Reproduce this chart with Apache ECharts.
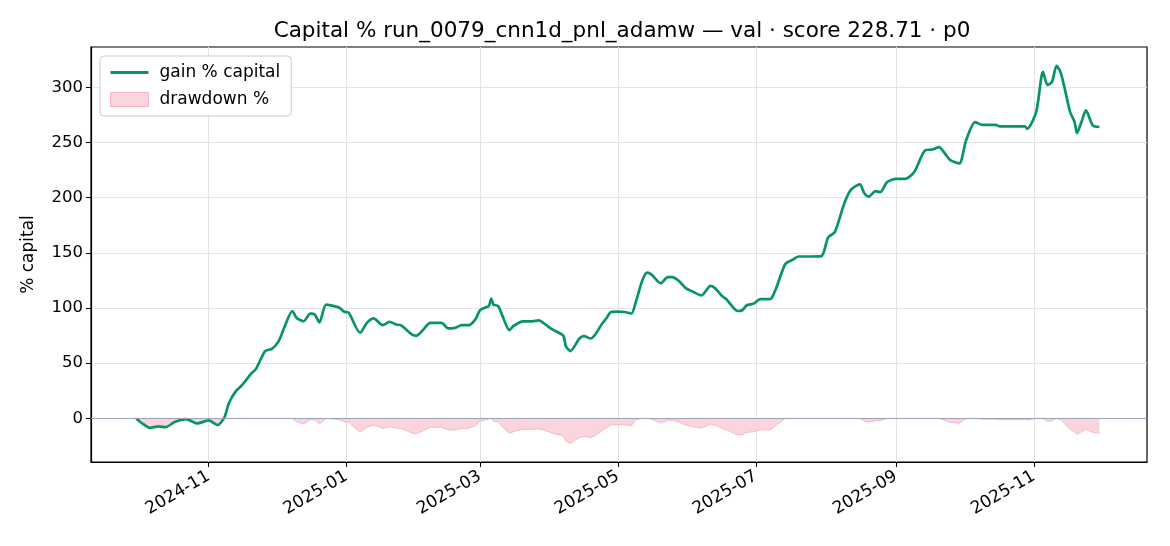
<!DOCTYPE html>
<html>
<head>
<meta charset="utf-8">
<title>Capital %</title>
<script src="https://cdn.jsdelivr.net/npm/echarts@6/dist/echarts.min.js"></script>
<style>
html,body{margin:0;padding:0;background:#fff;}
#chart{width:1170px;height:546px;}
</style>
</head>
<body>
<div id="chart"></div>
<script>
// dates of the points
var dates = [
	'2024-09-30','2024-10-03','2024-10-06','2024-10-10','2024-10-13','2024-10-17','2024-10-22','2024-10-27',
	'2024-11-01','2024-11-05','2024-11-08','2024-11-10','2024-11-13','2024-11-16','2024-11-20','2024-11-22',
	'2024-11-26','2024-11-29','2024-12-02','2024-12-05','2024-12-08','2024-12-10','2024-12-13','2024-12-16',
	'2024-12-18','2024-12-20','2024-12-23','2024-12-27','2024-12-29','2024-12-31','2025-01-02','2025-01-07',
	'2025-01-10','2025-01-13','2025-01-17','2025-01-20','2025-01-23','2025-01-25','2025-01-30','2025-02-01',
	'2025-02-04','2025-02-07','2025-02-12','2025-02-15','2025-02-18','2025-02-21','2025-02-24','2025-02-27',
	'2025-03-01','2025-03-04','2025-03-05','2025-03-06','2025-03-07','2025-03-09','2025-03-11','2025-03-14',
	'2025-03-16','2025-03-20','2025-03-24','2025-03-27','2025-03-29','2025-04-02','2025-04-05','2025-04-07',
	'2025-04-08','2025-04-10','2025-04-14','2025-04-16','2025-04-19','2025-04-21','2025-04-24','2025-04-26',
	'2025-04-28','2025-05-01','2025-05-04','2025-05-07','2025-05-09','2025-05-12','2025-05-14','2025-05-16',
	'2025-05-20','2025-05-23','2025-05-25','2025-05-28','2025-05-31','2025-06-03','2025-06-07','2025-06-11',
	'2025-06-13','2025-06-16','2025-06-18','2025-06-23','2025-06-25','2025-06-27','2025-06-30','2025-07-03',
	'2025-07-07','2025-07-08','2025-07-10','2025-07-14','2025-07-17','2025-07-20','2025-07-25','2025-07-30',
	'2025-08-02','2025-08-05','2025-08-09','2025-08-12','2025-08-16','2025-08-18','2025-08-20','2025-08-23',
	'2025-08-25','2025-08-28','2025-09-01','2025-09-05','2025-09-09','2025-09-14','2025-09-17','2025-09-20',
	'2025-09-23','2025-09-25','2025-09-29','2025-10-02','2025-10-06','2025-10-09','2025-10-15','2025-10-17',
	'2025-10-28','2025-10-29','2025-11-02','2025-11-05','2025-11-07','2025-11-09','2025-11-11','2025-11-13',
	'2025-11-17','2025-11-19','2025-11-20','2025-11-22','2025-11-24','2025-11-27','2025-11-30'
];
// gain % capital
var gain = [
	0,-5,-8.5,-7.3,-7.9,-3.3,-0.6,-4.5,
	-1.8,-6,1,14,24.5,30.6,41,45,
	61,63,70,85,97.3,91,88,95,
	94,87,103,101.5,100,96.6,95.7,77.6,
	86.6,90.6,84.5,87.5,85,84.5,76,75,
	80.6,86.6,86.6,81.5,82,84.5,84.5,89.7,
	97.9,101,102,108.5,103,102,92.7,80,
	84,88,88,88.8,86.6,80.6,77.6,74.5,
	65.5,61,72.4,74.5,72.4,76,85.7,91,
	96.4,96.7,96.4,95,106,126,132,130,
	122.4,128,128,124.5,118,115,111.5,120,
	118,111,108,97.3,98,102.5,104,108,
	108,109,118,139.7,143.4,146.7,146.7,147,
	164,169,194,207,212,204,201,206,
	205,214,217,217,223,243,243.6,245.7,
	239,234,231,252,268.5,266,266,264.5,
	264.5,262.5,277.6,314,302,305,319.4,312.4,
	277.6,268.5,258.5,268.5,279,265.5,264
];
// drawdown %
var drawdown = [
	0,-5,-8.5,-7.3,-7.9,-3.3,-0.6,-4.5,
	-1.8,-6,0,0,0,0,0,0,
	0,0,0,0,0,-3,-5,-1,
	-1.5,-5,0,-0.7,-1.5,-3,-3.5,-12.5,
	-8,-6,-9,-7.6,-8.8,-9,-13.3,-14,
	-11,-8,-8,-10.5,-10.3,-9,-9,-6.5,
	-2.6,-1,-0.5,0,-2.6,-3,-7.5,-13.7,
	-11.8,-9.8,-9.8,-9.4,-10.4,-13.3,-14.8,-16.3,
	-20.6,-22.7,-17.3,-16.3,-17.3,-15.6,-10.9,-8.4,
	-5.8,-5.6,-5.8,-6.4,-1.2,0,0,-0.9,
	-4.1,-1.7,-1.7,-3.2,-6,-7.3,-8.8,-5.2,
	-6,-9,-10.3,-14.9,-14.7,-12.7,-12.1,-10.3,
	-10.3,-9.9,-6,0,0,0,0,0,
	0,0,0,0,0,-2.6,-3.5,-1.9,
	-2.2,0,0,0,0,0,0,0,
	-2,-3.4,-4.3,0,0,-0.7,-0.7,-1.1,
	-1.1,-1.6,0,0,-2.9,-2.2,0,-1.7,
	-10,-12.2,-14.5,-12.2,-9.6,-12.8,-13.2
];
// tick labels
var monthTicks = ['2024-11-01','2025-01-01','2025-03-01','2025-05-01','2025-07-01','2025-09-01','2025-11-01'];
var yTicks = [0,50,100,150,200,250,300];

var FONT = 'DejaVu Sans';
function toTs(s){
	var p = s.split('-');
	return Date.UTC(+p[0], +p[1] - 1, +p[2]);
}
function fmtMonth(v){
	var d = new Date(v);
	var m = d.getUTCMonth() + 1;
	return d.getUTCFullYear() + '-' + (m < 10 ? '0' + m : m);
}
function pairs(xs, ys){
	var out = [];
	for(var i = 0; i < xs.length; i++){
		out.push([toTs(xs[i]), ys[i]]);
	}
	return out;
}
var tickTs = monthTicks.map(toTs);

var chart = echarts.init(document.getElementById('chart'));
var option = {
	animation: false,
	backgroundColor: '#fff',
	title: {
		text: 'Capital % run_0079_cnn1d_pnl_adamw \u2014 val \u00b7 score 228.71 \u00b7 p0',
		left: 617,
		textAlign: 'center',
		top: 15,
		textStyle: {fontFamily: FONT, fontSize: 21.5, fontWeight: 'normal', color: '#000'}
	},
	legend: {
		orient: 'vertical',
		left: 100,
		top: 56,
		padding: [8, 11, 8, 10],
		itemGap: 10,
		itemWidth: 38,
		itemHeight: 14,
		backgroundColor: '#fff',
		borderColor: '#cccccc',
		borderWidth: 1,
		borderRadius: 4,
		textStyle: {fontFamily: FONT, fontSize: 17, color: '#000', padding: [0, 0, 0, 6]},
		data: [
			{name: 'gain % capital', icon: 'path://M0,0L40,0L40,3L0,3Z', itemStyle: {color: '#079466'}},
			{name: 'drawdown %', icon: 'rect', itemStyle: {color: '#fad5dd', borderColor: '#f5b3c3', borderWidth: 1}}
		]
	},
	grid: {
		left: 91, right: 23, top: 47, bottom: 84,
		show: true, borderColor: '#000', borderWidth: 1.2,
		containLabel: false
	},
	xAxis: {
		type: 'value',
		min: toTs('2024-09-10'),
		max: toTs('2025-12-21'),
		axisLine: {show: true, onZero: false, lineStyle: {color: '#000', width: 1.2}},
		axisTick: {show: true, length: 5, lineStyle: {color: '#000'}, customValues: tickTs},
		axisLabel: {
			rotate: 30,
			margin: 13,
			fontFamily: FONT, fontSize: 17, color: '#000',
			customValues: tickTs,
			formatter: fmtMonth
		},
		splitLine: {show: true, lineStyle: {color: '#e3e3e3', width: 1}}
	},
	yAxis: {
		type: 'value',
		min: -39.5,
		max: 336.5,
		name: '% capital',
		nameLocation: 'middle',
		nameGap: 54,
		nameTextStyle: {fontFamily: FONT, fontSize: 17, color: '#000'},
		axisLine: {show: true, lineStyle: {color: '#000', width: 1.2}},
		axisTick: {show: true, length: 5, lineStyle: {color: '#000'}, customValues: yTicks},
		axisLabel: {
			margin: 8,
			fontFamily: FONT, fontSize: 16.5, color: '#000',
			customValues: yTicks
		},
		splitLine: {show: true, lineStyle: {color: '#e3e3e3', width: 1}}
	},
	series: [
		{
			name: 'drawdown %',
			type: 'line',
			data: pairs(dates, drawdown),
			symbol: 'none',
			smooth: false,
			lineStyle: {color: '#f5b8c6', width: 1},
			itemStyle: {color: '#fad5dd'},
			areaStyle: {color: '#fad5dd', opacity: 1, origin: 0},
			z: 2
		},
		{
			name: 'gain % capital',
			type: 'line',
			data: pairs(dates, gain),
			symbol: 'none',
			smooth: 0.25,
			lineStyle: {color: '#079466', width: 2.7},
			itemStyle: {color: '#079466'},
			markLine: {
				silent: true,
				symbol: 'none',
				label: {show: false},
				lineStyle: {color: '#9aa3b5', width: 1, type: 'solid'},
				data: [{yAxis: 0}]
			},
			z: 3
		}
	]
};
chart.setOption(option);
</script>
</body>
</html>
